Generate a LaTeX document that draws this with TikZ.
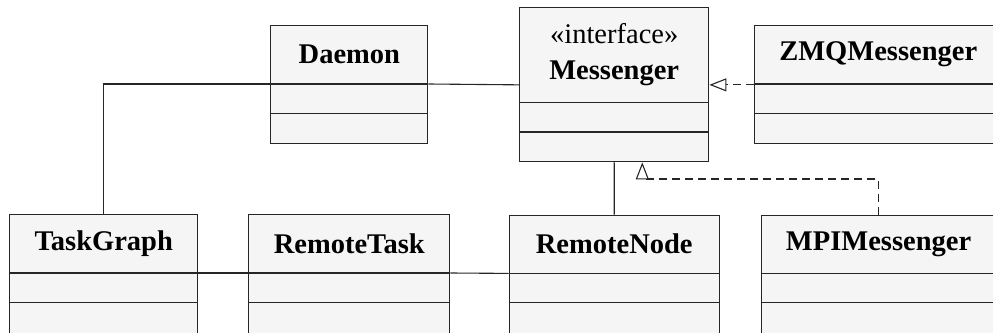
\documentclass[tikz,border=0pt]{standalone}
\usepackage{fontspec}
\setmainfont{Liberation Serif}
\usetikzlibrary{arrows.meta,calc}

\definecolor{boxfill}{HTML}{F5F5F5}
\definecolor{ink}{HTML}{262626}

\tikzset{
  classbox/.style={draw=ink, fill=boxfill, line width=1.1pt, rectangle, inner sep=0pt},
  divider/.style={draw=ink, line width=1.1pt},
  classname/.style={font=\fontsize{28.5}{36.5}\selectfont\bfseries, align=center, inner sep=0pt},
  assoc/.style={draw=ink, line width=1.1pt},
  realize/.style={draw=ink, line width=1.1pt, dash pattern=on 8pt off 5pt,
    -{Triangle[open, length=17pt, width=13pt, fill=white]}},
}

% #1 name, #2 x, #3 y (top left), #4 width, #5 height,
% #6 offset of first divider, #7 offset of second divider, #8 title
\newcommand{\umlclass}[8]{%
  \node[classbox, minimum width=#4pt, minimum height=#5pt, anchor=north west] (#1) at (#2,#3) {};
  \coordinate (#1-hw) at ([yshift=-#6pt]#1.north west);
  \coordinate (#1-he) at ([yshift=-#6pt]#1.north east);
  \draw[divider] (#1-hw) -- (#1-he);
  \draw[divider] ([yshift=-#7pt]#1.north west) -- ([yshift=-#7pt]#1.north east);
  \node[classname] (#1-title) at ($(#1.north)!0.5!(#1-hw -| #1.north)$) {#8};
}

\begin{document}
\begin{tikzpicture}[x=1pt, y=-1pt]
  \useasboundingbox (0,0) rectangle (993,332);
  \clip (0,0) rectangle (993,332);

  % top row
  \umlclass{daemon}{270.3}{25.3}{157}{118}{58.7}{88.4}{Daemon}
  \umlclass{messenger}{519}{7.3}{189.3}{154}{95}{124.7}{{\mdseries «interface»}\\Messenger}
  \umlclass{zmq}{753.7}{25.3}{248}{118}{58.7}{88.4}{ZMQMessenger}

  % bottom row
  \umlclass{taskgraph}{9.3}{214.3}{187.7}{160}{58.7}{88}{TaskGraph}
  \umlclass{remotetask}{248.3}{214.3}{201}{160}{58.7}{88}{RemoteTask}
  \umlclass{remotenode}{508.7}{214.7}{210}{160}{58.7}{88}{RemoteNode}
  \umlclass{mpi}{761}{214.7}{234}{160}{58.7}{88}{MPIMessenger}

  % associations
  \draw[assoc] (taskgraph.north) |- (daemon-hw);
  \draw[assoc] (daemon-he) -- (messenger.west);
  \draw[assoc] (taskgraph-he) -- (remotetask-hw);
  \draw[assoc] (remotetask-he) -- (remotenode-hw);
  \draw[assoc] (remotenode.north) -- (messenger.south);

  % realizations of the interface
  \draw[realize] (zmq.west |- messenger.east) -- (messenger.east);
  \coordinate (mpibend) at (642.3,179);
  \draw[realize] (mpi.north) |- (mpibend) -- (mpibend |- messenger.south);
\end{tikzpicture}
\end{document}
